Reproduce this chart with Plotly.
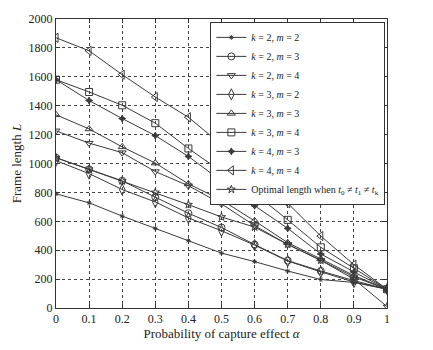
import plotly.graph_objects as go

alpha = [0, 0.1, 0.2, 0.3, 0.4, 0.5, 0.6, 0.7, 0.8, 0.9, 1.0]
k2m2 = [790, 728, 636, 551, 466, 380, 321, 256, 197, 177, 130]
k2m3 = [1040, 960, 880, 767, 656, 557, 439, 328, 256, 190, 130]
k2m4 = [1226, 1141, 1075, 944, 846, 720, 570, 440, 330, 215, 130]
k3m2 = [1020, 930, 820, 734, 623, 535, 435, 325, 250, 180, 130]
k3m3 = [1337, 1239, 1115, 1003, 859, 747, 603, 452, 340, 225, 130]
k3m4 = [1580, 1495, 1403, 1279, 1104, 944, 793, 610, 420, 275, 130]
k4m3 = [1580, 1436, 1311, 1193, 1049, 879, 708, 551, 374, 250, 130]
k4m4 = [1870, 1780, 1615, 1460, 1320, 1130, 933, 725, 498, 300, 130]
optimal = [1040, 960, 880, 800, 715, 630, 560, 440, 330, 200, 10]

names = ["<i>k</i> = 2, <i>m</i> = 2", "<i>k</i> = 2, <i>m</i> = 3", "<i>k</i> = 2, <i>m</i> = 4",
         "<i>k</i> = 3, <i>m</i> = 2", "<i>k</i> = 3, <i>m</i> = 3", "<i>k</i> = 3, <i>m</i> = 4",
         "<i>k</i> = 4, <i>m</i> = 3", "<i>k</i> = 4, <i>m</i> = 4",
         "Optimal length when <i>t</i><sub>0</sub> ≠ <i>t</i><sub>1</sub> ≠ <i>t</i><sub>k</sub>"]
series = [k2m2, k2m3, k2m4, k3m2, k3m3, k3m4, k4m3, k4m4, optimal]
symbols = ["asterisk-open", "circle-open", "triangle-down-open", "diamond-tall-open",
           "triangle-up-open", "square-open", "star-diamond", "triangle-left-open", "star-open"]
sizes = [4, 7, 7, 8, 7, 7, 5, 8, 6]

fig = go.Figure()
col = "#3a3a3a"
for n, y, s, sz in zip(names, series, symbols, sizes):
    fig.add_trace(go.Scatter(x=alpha, y=y, name=n, mode="lines+markers",
                             line=dict(color=col, width=1),
                             marker=dict(symbol=s, size=sz, color=col, line=dict(color=col, width=1))))

axis_common = dict(showline=True, linecolor="#333", linewidth=1, mirror="ticks",
                   ticks="inside", ticklen=4, tickcolor="#333",
                   showgrid=True, gridcolor="#444", griddash="3px,3px", gridwidth=1,
                   zeroline=False, tickfont=dict(family="Liberation Serif", size=12, color="#222"))
fig.update_xaxes(range=[0, 1], tickvals=alpha, ticktext=["0", "0.1", "0.2", "0.3", "0.4", "0.5", "0.6", "0.7", "0.8", "0.9", "1"],
                 title=dict(text="Probability of capture effect <i>α</i>", standoff=2,
                            font=dict(family="Liberation Serif", size=13, color="#222")), **axis_common)
fig.update_yaxes(range=[0, 2000], dtick=200,
                 title=dict(text="Frame length <i>L</i>", standoff=4,
                            font=dict(family="Liberation Serif", size=13, color="#222")), **axis_common)
fig.update_layout(width=433, height=350, margin=dict(l=56, r=46, t=12, b=33),
                  plot_bgcolor="white", paper_bgcolor="white",
                  legend=dict(x=0.995, y=0.99, xanchor="right", yanchor="top",
                              bgcolor="white", bordercolor="#333", borderwidth=1,
                              font=dict(family="Liberation Serif", size=10, color="#222"),
                              tracegroupgap=0, itemwidth=30))
fig.write_html("out.html")
